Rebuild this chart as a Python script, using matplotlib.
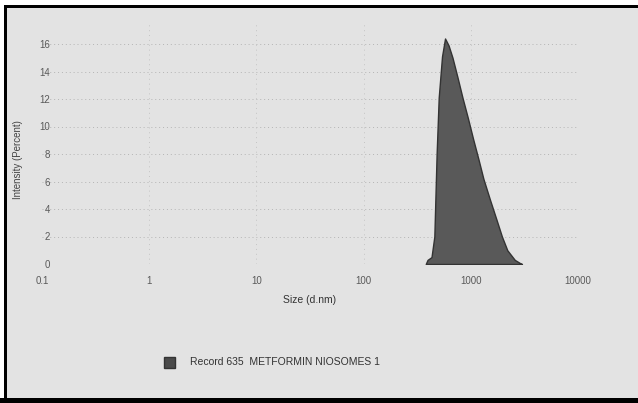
import numpy as np
import matplotlib
matplotlib.use("Agg")
import matplotlib.pyplot as plt
from matplotlib.patches import Rectangle

# size distribution by intensity
size_nm = [380, 395, 430, 457, 480, 502, 539, 575, 620, 675, 750, 836,
           940, 1050, 1180, 1310, 1520, 1740, 1950, 2190, 2570, 2900, 3000]
intensity = [0.0, 0.3, 0.5, 2.0, 8.0, 12.1, 15.1, 16.4, 15.9, 15.0, 13.6, 12.1,
             10.6, 9.1, 7.6, 6.2, 4.6, 3.2, 2.0, 1.0, 0.3, 0.05, 0.0]

x_ticks = [0.1, 1, 10, 100, 1000, 10000]
x_labels = ["0.1", "1", "10", "100", "1000", "10000"]
y_ticks = [0, 2, 4, 6, 8, 10, 12, 14, 16]

legend_text = "Record 635  METFORMIN NIOSOMES 1"

plt.rcParams['font.family'] = ['Liberation Sans', 'DejaVu Sans']

W, H = 638, 403
fig = plt.figure(figsize=(W / 100, H / 100), dpi=100)
fig.patch.set_facecolor("white")

# paper background and black frame
fig.patches.append(Rectangle((6 / W, 0), 1 - 6 / W, 1 - 7 / H, transform=fig.transFigure,
                             facecolor="#e3e3e3", edgecolor="none", zorder=-5))
fig.patches.append(Rectangle((4 / W, 0), 3 / W, 1 - 5 / H, transform=fig.transFigure,
                             facecolor="black", edgecolor="none", zorder=-4))
fig.patches.append(Rectangle((4 / W, 1 - 8 / H), 1 - 4 / W, 3 / H, transform=fig.transFigure,
                             facecolor="black", edgecolor="none", zorder=-4))
fig.patches.append(Rectangle((0, 0), 1, 5 / H, transform=fig.transFigure,
                             facecolor="black", edgecolor="none", zorder=-4))

left, right, bottom, top = 42, 578, 264, 22
ax = fig.add_axes([left / W, 1 - bottom / H, (right - left) / W, (bottom - top) / H])
ax.set_zorder(5)
ax.set_facecolor("none")
ax.set_xscale("log")
ax.set_xlim(0.1, 10000)
ax.set_ylim(0, 17.6)

for s in ax.spines.values():
    s.set_visible(False)

ax.set_yticks(y_ticks)
ax.set_yticklabels([str(v) for v in y_ticks])
ax.set_xticks(x_ticks)
ax.set_xticklabels(x_labels)
ax.minorticks_off()
ax.tick_params(length=0, labelsize=7, colors="#5a5a5a")
ax.tick_params(axis="y", pad=-6)
ax.tick_params(axis="x", pad=9)

# faint dotted grid
for v in y_ticks[1:]:
    ax.axhline(v, color="#b4b4b4", lw=0.7, ls=(0, (1, 3)), zorder=1)
for v in x_ticks[1:-1]:
    ax.axvline(v, color="#c4c4c4", lw=0.7, ls=(0, (1, 4)), zorder=1)

ax.fill_between(size_nm, intensity, 0, color="#595959", edgecolor="#333333", lw=1.0, zorder=3)

ax.set_ylabel("Intensity (Percent)", fontsize=7, color="#444444")
ax.yaxis.set_label_coords(-19 / (right - left), 0.43)
ax.set_xlabel("Size (d.nm)", fontsize=7.5, color="#333333", labelpad=6)

# legend entry
fig.patches.append(Rectangle((164 / W, 1 - 368 / H), 11 / W, 11 / H, transform=fig.transFigure,
                             facecolor="#4a4a4a", edgecolor="#333333", zorder=2))
fig.text(190 / W, 1 - 362 / H, legend_text, fontsize=7.5, color="#333333", va="center", ha="left")

fig.savefig("out.png", dpi=100, facecolor=fig.get_facecolor())
